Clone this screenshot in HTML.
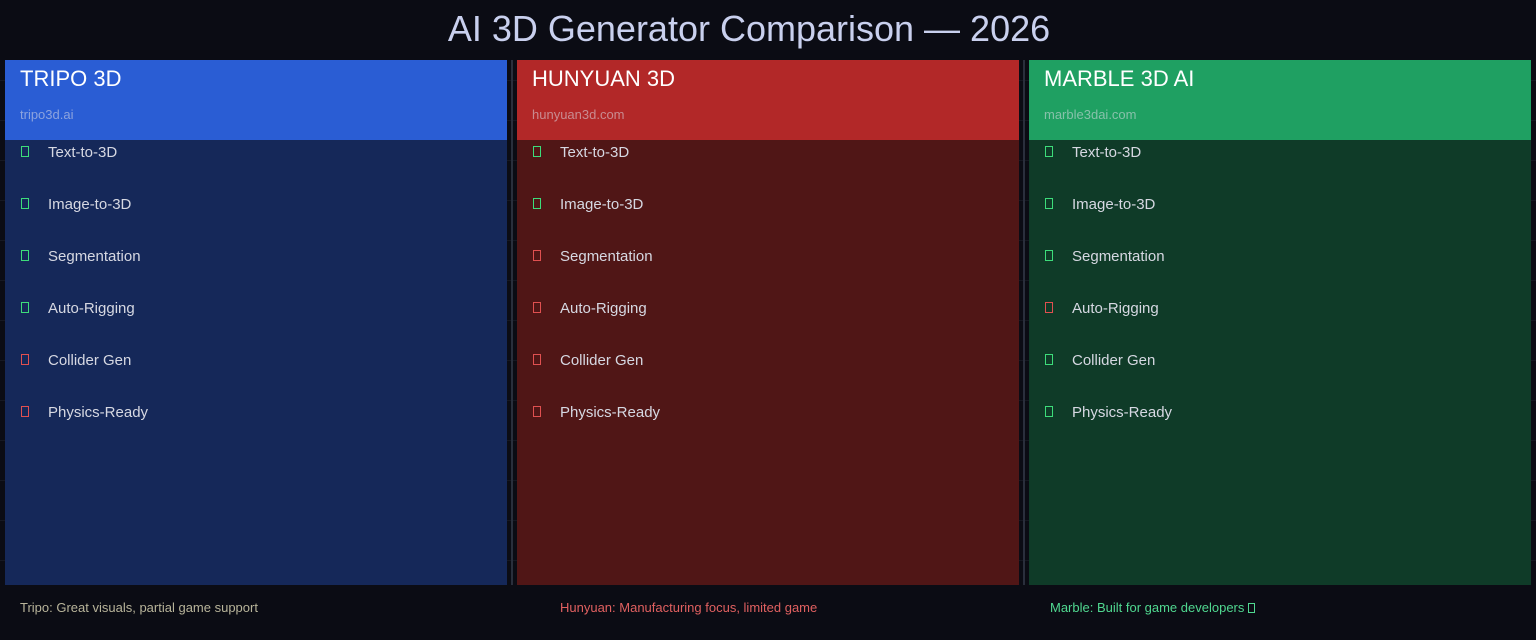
<!DOCTYPE html>
<html><head><meta charset="utf-8"><style>
*{margin:0;padding:0;box-sizing:border-box}
body{width:1536px;height:640px;background:#0b0c14;position:relative;overflow:hidden;font-family:"Liberation Sans",sans-serif}
.grid{position:absolute;left:0;width:1536px;height:1px;background:#161822}
.title{position:absolute;top:8px;left:-19px;width:1536px;text-align:center;font-size:36px;color:#c9d0ee}
.sep{position:absolute;top:60px;height:525px;width:2px;background:#2a2f3c}
.panel{position:absolute;top:60px;width:502px;height:525px}
.hd{height:80px;position:relative}
.hd .n{position:absolute;left:15px;top:6px;font-size:22px;color:#fff}
.hd .u{position:absolute;left:15px;top:47px;font-size:13px;color:rgba(220,220,230,.55)}
.row{position:absolute;left:15px;font-size:15px;color:#d6d8e2}
.row i{position:absolute;left:1px;top:2px;width:8px;height:11px;border:1px solid}
.row span{position:absolute;left:28px;top:0;white-space:nowrap}
.g i{border-color:#3ddc7a}.r i{border-color:#e05050}
.foot{position:absolute;top:600px;font-size:13px}
</style></head><body>
<div class="grid" style="top:80px"></div><div class="grid" style="top:120px"></div><div class="grid" style="top:160px"></div><div class="grid" style="top:200px"></div><div class="grid" style="top:240px"></div><div class="grid" style="top:280px"></div><div class="grid" style="top:320px"></div><div class="grid" style="top:360px"></div><div class="grid" style="top:400px"></div><div class="grid" style="top:440px"></div><div class="grid" style="top:480px"></div><div class="grid" style="top:520px"></div><div class="grid" style="top:560px"></div>
<div class="title">AI 3D Generator Comparison — 2026</div>
<div class="sep" style="left:511px"></div><div class="sep" style="left:1023px"></div>

<div class="panel" style="left:5px;background:#152859">
<div class="hd" style="background:#2a5dd4"><div class="n">TRIPO 3D</div><div class="u">tripo3d.ai</div></div>
<div class="row g" style="top:84px"><i></i><span>Text-to-3D</span></div>
<div class="row g" style="top:136px"><i></i><span>Image-to-3D</span></div>
<div class="row g" style="top:188px"><i></i><span>Segmentation</span></div>
<div class="row g" style="top:240px"><i></i><span>Auto-Rigging</span></div>
<div class="row r" style="top:292px"><i></i><span>Collider Gen</span></div>
<div class="row r" style="top:344px"><i></i><span>Physics-Ready</span></div>
</div>

<div class="panel" style="left:517px;background:#501616">
<div class="hd" style="background:#b22828"><div class="n">HUNYUAN 3D</div><div class="u">hunyuan3d.com</div></div>
<div class="row g" style="top:84px"><i></i><span>Text-to-3D</span></div>
<div class="row g" style="top:136px"><i></i><span>Image-to-3D</span></div>
<div class="row r" style="top:188px"><i></i><span>Segmentation</span></div>
<div class="row r" style="top:240px"><i></i><span>Auto-Rigging</span></div>
<div class="row r" style="top:292px"><i></i><span>Collider Gen</span></div>
<div class="row r" style="top:344px"><i></i><span>Physics-Ready</span></div>
</div>

<div class="panel" style="left:1029px;background:#0f3b28">
<div class="hd" style="background:#1fa062"><div class="n">MARBLE 3D AI</div><div class="u">marble3dai.com</div></div>
<div class="row g" style="top:84px"><i></i><span>Text-to-3D</span></div>
<div class="row g" style="top:136px"><i></i><span>Image-to-3D</span></div>
<div class="row g" style="top:188px"><i></i><span>Segmentation</span></div>
<div class="row r" style="top:240px"><i></i><span>Auto-Rigging</span></div>
<div class="row g" style="top:292px"><i></i><span>Collider Gen</span></div>
<div class="row g" style="top:344px"><i></i><span>Physics-Ready</span></div>
</div>

<div class="foot" style="left:20px;color:#b8b49a">Tripo: Great visuals, partial game support</div>
<div class="foot" style="left:560px;color:#e06060">Hunyuan: Manufacturing focus, limited game</div>
<div class="foot" style="left:1050px;color:#50d890">Marble: Built for game developers <span style="display:inline-block;width:7px;height:10px;border:1px solid #50d890;vertical-align:-1px"></span></div>
</body></html>
